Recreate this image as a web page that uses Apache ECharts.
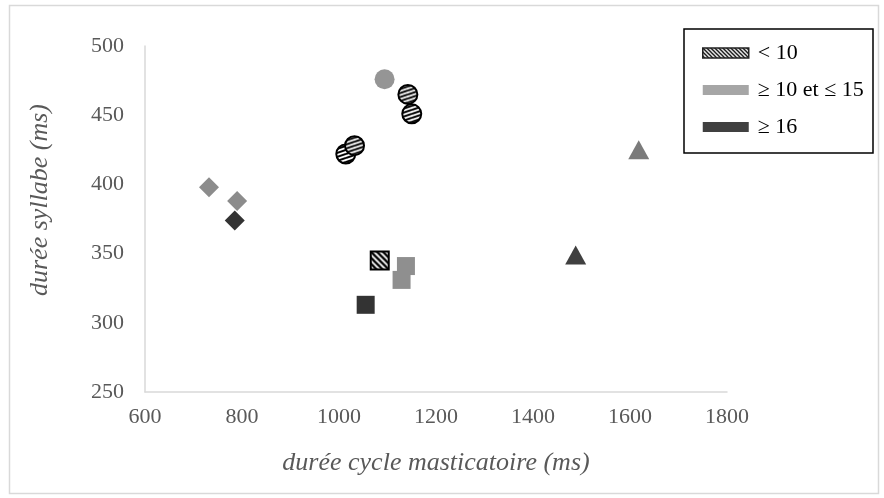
<!DOCTYPE html>
<html><head><meta charset="utf-8">
<script src="https://cdn.jsdelivr.net/npm/echarts@6/dist/echarts.min.js"></script>
<style>html,body{margin:0;padding:0;background:#fff}#c{width:884px;height:498px}</style>
</head><body><div id="c"></div>
<script>
// ---- data ----
const seriesNames = ['< 10', '≥ 10 et ≤ 15', '≥ 16'];
const hatchX = [1014, 1032, 1142, 1150, 1084];
const hatchY = [422, 428, 465, 451, 345];
const hatchShape = ['circle', 'circle', 'circle', 'circle', 'rect'];
const midX = [1094, 1138, 1129, 732, 790, 1618];
const midY = [476, 341, 331, 398, 388, 425];
const midShape = ['circle', 'rect', 'rect', 'diamond', 'diamond', 'triangle'];
const darkX = [785, 1055, 1488];
const darkY = [374, 313, 349];
const darkShape = ['diamond', 'rect', 'triangle'];
const xTitle = 'durée cycle masticatoire (ms)';
const yTitle = 'durée syllabe (ms)';

// ---- patterns ----
function stripePattern(w, h, lines, lw, scale) {
  const c = document.createElement('canvas');
  c.width = w; c.height = h;
  const g = c.getContext('2d');
  g.fillStyle = '#fff'; g.fillRect(0, 0, w, h);
  g.strokeStyle = '#000'; g.lineWidth = lw;
  lines.forEach(l => { g.beginPath(); g.moveTo(l[0], l[1]); g.lineTo(l[2], l[3]); g.stroke(); });
  const p = { image: c, repeat: 'repeat' };
  if (scale) { p.scaleX = scale; p.scaleY = scale; }
  return p;
}
const circSize = 19, sqSize = 18;
const circPat = stripePattern(12, 4, [[0, 4, 12, 0], [0, 0, 12, -4], [0, 8, 12, 4]], 2, 2 / circSize);
const sqPat = stripePattern(6, 6, [[-1, -1, 7, 7], [-1, 5, 1, 7], [5, -1, 7, 1]], 2.3, 2 / sqSize);
const legPat = stripePattern(4, 4, [[-1, -1, 5, 5], [-1, 3, 1, 5], [3, -1, 5, 1]], 1.3);

const sizeOf = {circle: 20, rect: 18, diamond: 20, triangle: [21, 19]};
const midColor = {circle: '#959595', rect: '#8f8f8f', diamond: '#8c8c8c', triangle: '#7b7b7b'};
const darkColor = {circle: '#333333', rect: '#333333', diamond: '#333333', triangle: '#404040'};

function build(xs, ys, shapes, sizeFn, styleFn) {
  return xs.map((x, i) => ({
    value: [x, ys[i]],
    symbol: shapes[i],
    symbolSize: sizeFn(shapes[i]),
    itemStyle: styleFn(shapes[i])
  }));
}

const serif = '"Liberation Serif", "Times New Roman", serif';
const chart = echarts.init(document.getElementById('c'), null, {renderer: 'canvas'});
chart.setOption({
  animation: false,
  backgroundColor: '#fff',
  grid: {left: 145, right: 157, top: 46, bottom: 106},
  xAxis: {
    type: 'value', min: 600, max: 1800, interval: 200,
    axisLine: {show: true, lineStyle: {color: '#d9d9d9', width: 1.5}},
    axisTick: {show: false}, splitLine: {show: false},
    axisLabel: {color: '#595959', fontFamily: serif, fontSize: 22, margin: 14, formatter: v => String(v)},
    name: xTitle, nameLocation: 'middle', nameGap: 58,
    nameTextStyle: {color: '#595959', fontFamily: serif, fontSize: 26, fontStyle: 'italic'}
  },
  yAxis: {
    type: 'value', min: 250, max: 500, interval: 50,
    axisLine: {show: true, lineStyle: {color: '#d9d9d9', width: 1.5}},
    axisTick: {show: false}, splitLine: {show: false},
    axisLabel: {color: '#595959', fontFamily: serif, fontSize: 22, margin: 21, formatter: v => String(v)}
  },
  legend: {
    orient: 'vertical', left: 697, top: 37, icon: 'rect',
    itemWidth: 46, itemHeight: 10, itemGap: 15,
    textStyle: {color: '#000', fontFamily: serif, fontSize: 22, padding: [0, 0, 0, 4]},
    data: [
      {name: seriesNames[0], itemStyle: {color: legPat, borderColor: '#222', borderWidth: 1.5}},
      {name: seriesNames[1], itemStyle: {color: '#a6a6a6'}},
      {name: seriesNames[2], itemStyle: {color: '#404040'}}
    ],
    selectedMode: false
  },
  graphic: [
    {type: 'rect', shape: {x: 9.5, y: 5.5, width: 869, height: 488}, style: {fill: 'none', stroke: '#d9d9d9', lineWidth: 1.5}, z: -1},
    {type: 'rect', shape: {x: 684, y: 29, width: 189, height: 124}, style: {fill: 'none', stroke: '#000', lineWidth: 1.5}, z: 10},
    {type: 'text', x: 40, y: 200, rotation: Math.PI / 2,
     style: {text: yTitle, fill: '#595959', font: 'italic 26px ' + serif, textAlign: 'center', textVerticalAlign: 'middle'}}
  ],
  series: [
    {
      name: seriesNames[0], type: 'scatter',
      itemStyle: {color: legPat, opacity: 1},
      data: build(hatchX, hatchY, hatchShape,
        s => s === 'circle' ? circSize : sqSize,
        s => ({color: s === 'circle' ? circPat : sqPat, borderColor: '#000', borderWidth: 2, opacity: 1}))
    },
    {
      name: seriesNames[1], type: 'scatter',
      itemStyle: {color: '#a6a6a6', opacity: 1},
      data: build(midX, midY, midShape, s => sizeOf[s], s => ({color: midColor[s], opacity: 1}))
    },
    {
      name: seriesNames[2], type: 'scatter',
      itemStyle: {color: '#404040', opacity: 1},
      data: build(darkX, darkY, darkShape, s => sizeOf[s], s => ({color: darkColor[s], opacity: 1}))
    }
  ]
});
</script></body></html>
